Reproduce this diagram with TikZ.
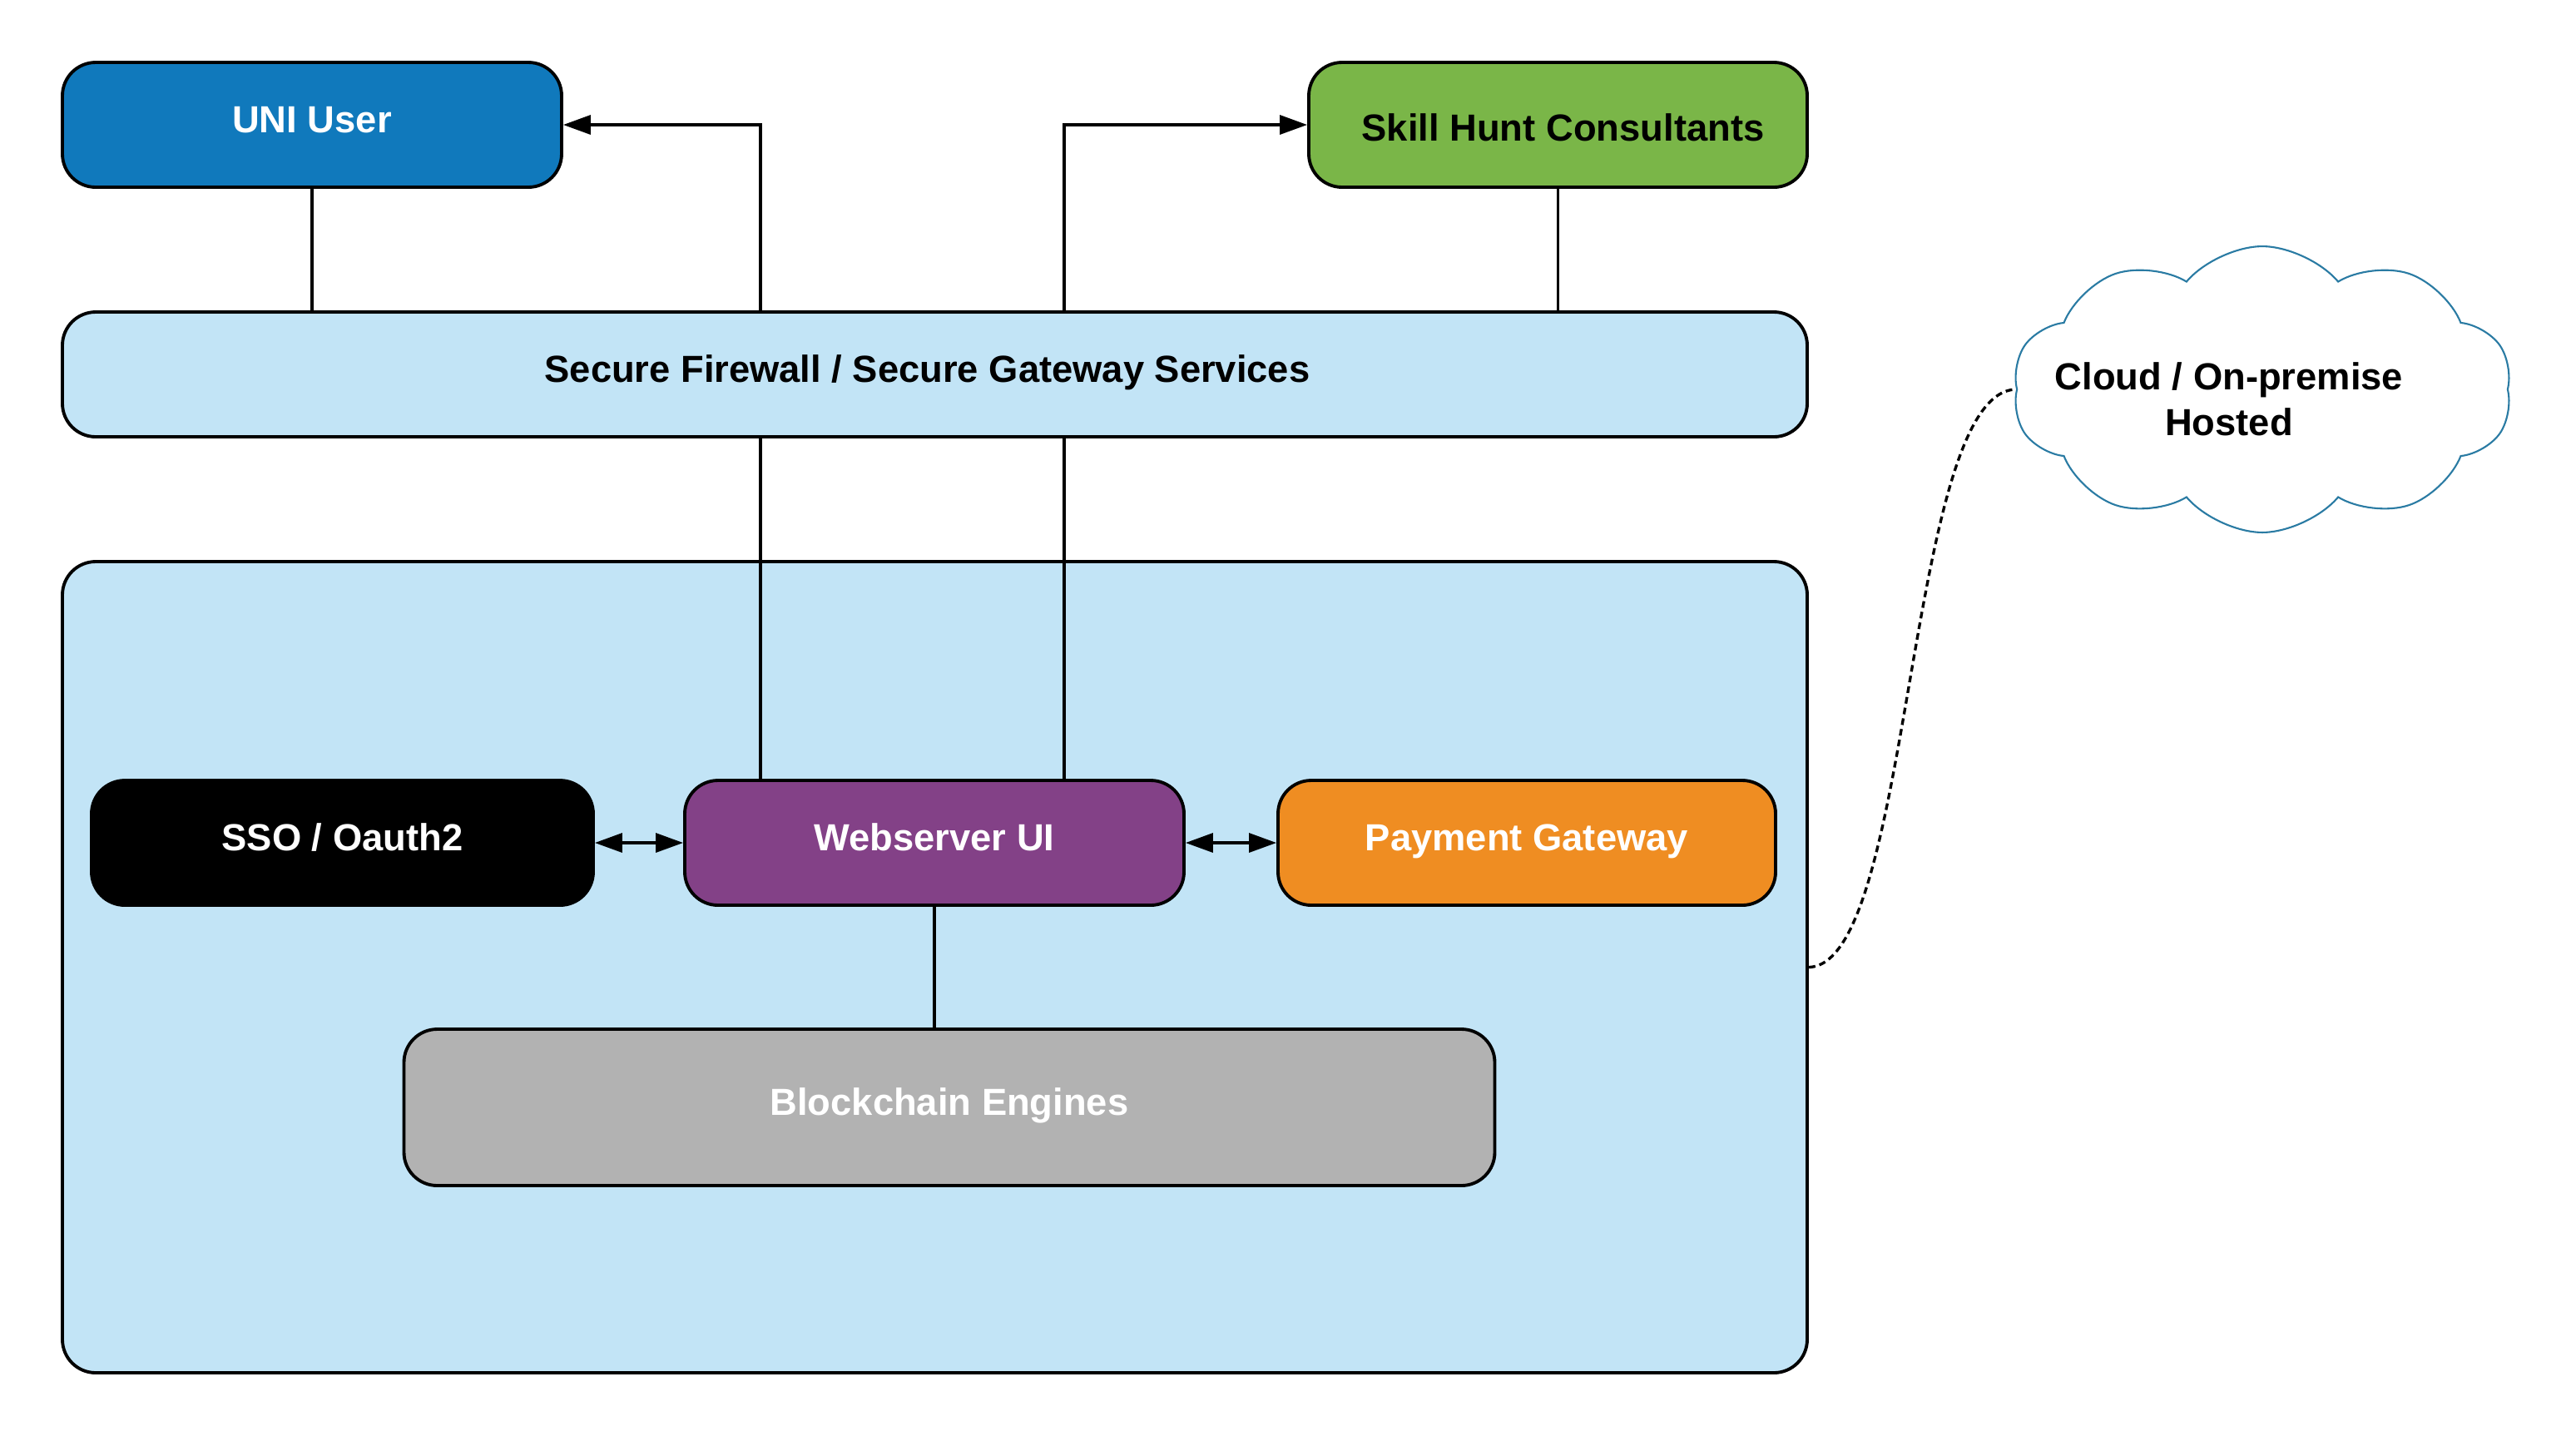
\documentclass[tikz,border=0pt]{standalone}
\usepackage{fontspec}
\setmainfont{Liberation Sans}
\usepackage{tikz}
\usetikzlibrary{arrows.meta,positioning,calc,shapes.symbols}
\definecolor{uniblue}{HTML}{1079BC}
\definecolor{skillgreen}{HTML}{7AB648}
\definecolor{paleblue}{HTML}{C2E4F6}
\definecolor{webpurple}{HTML}{834187}
\definecolor{payorange}{HTML}{EF8D22}
\definecolor{chaingray}{HTML}{B2B2B2}
\definecolor{cloudline}{HTML}{2A7BA3}

\begin{document}
\begin{tikzpicture}[
    box/.style={draw=black,line width=1.1pt,rounded corners=0.4cm,
      minimum height=1.5cm,inner sep=0pt,text height=0.33cm,text depth=0.14cm,
      font=\fontsize{12.9}{15.5}\selectfont\bfseries},
    wire/.style={line width=0.95pt},
    arr/.style={wire,-{Triangle[length=0.33cm,width=0.23cm]}},
    dbl/.style={wire,{Triangle[length=0.33cm,width=0.23cm]}-{Triangle[length=0.33cm,width=0.23cm]}}]
    \useasboundingbox (0,0) rectangle (30.96,-17.25);

    % Top: users and gateway
    \node[box, fill=uniblue, text=white, minimum width=6cm] (uni) at (3.75,-1.5) {UNI User};
    \node[box, fill=skillgreen, minimum width=5.99cm] (skill) at (18.725,-1.5)
      {\raisebox{-0.1cm}[\height][\depth]{\hspace*{0.12cm}Skill Hunt Consultants}};
    \node[box, fill=paleblue, minimum width=20.97cm] (firewall) at (11.235,-4.5) {Secure Firewall / Secure Gateway Services\hspace*{0.18cm}};

    % Platform container
    \node[box, fill=paleblue, minimum width=20.97cm, minimum height=9.75cm] (platform) at (11.235,-11.625) {};
    \node[box, fill=black, text=white, minimum width=6.03cm] (sso) at (4.115,-10.13) {SSO / Oauth2};
    \node[box, fill=webpurple, text=white, minimum width=6cm] (websrv) at (11.23,-10.13) {Webserver UI};
    \node[box, fill=payorange, text=white, minimum width=5.98cm] (payment) at (18.35,-10.13) {Payment Gateway};
    \node[box, fill=chaingray, text=white, minimum width=13.11cm, minimum height=1.88cm] (chain) at (11.41,-13.31) {Blockchain Engines};

    % Cloud
    \node[draw=cloudline, line width=0.6pt, cloud, cloud puffs=10, cloud puff arc=100, aspect=1.8,
      minimum width=6cm, minimum height=3.4cm, align=center,
      font=\fontsize{12.9}{15.5}\selectfont\bfseries] (cloud) at (27.19,-4.68)
      {\raisebox{-0.12cm}[\height][\depth]{\hspace*{-0.8cm}Cloud / On-premise}\\
       \raisebox{-0.12cm}[\height][\depth]{\hspace*{-0.8cm}Hosted}};

    % tap points on the gateway
    \coordinate (tapL) at (9.14,0);
    \coordinate (tapR) at (12.79,0);

    \draw[wire] (uni.south) -- (uni.south |- firewall.north);
    \draw[wire] (skill.south) -- (skill.south |- firewall.north);
    \draw[arr] (firewall.north -| tapL) |- (uni.east);
    \draw[arr] (firewall.north -| tapR) |- (skill.west);
    \draw[wire] (firewall.south -| tapL) -- (websrv.north -| tapL);
    \draw[wire] (firewall.south -| tapR) -- (websrv.north -| tapR);

    \draw[dbl] (sso.east) -- (websrv.west);
    \draw[dbl] (websrv.east) -- (payment.west);
    \draw[wire] (websrv.south) -- (websrv.south |- chain.north);

    % hosting link
    \draw[wire, dash pattern=on 0.08cm off 0.05cm] (platform.east)
      .. controls (23.0,-11.6) and (22.9,-4.7) .. (cloud.west);
\end{tikzpicture}
\end{document}
